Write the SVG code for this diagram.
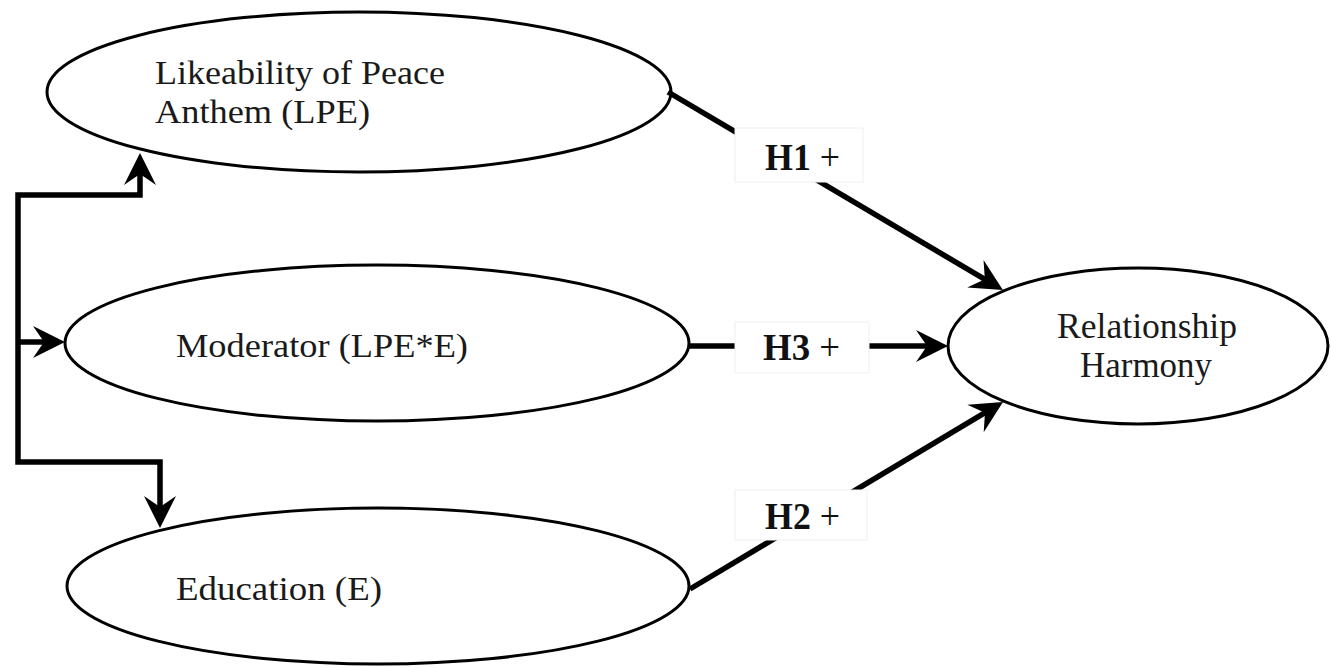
<svg xmlns="http://www.w3.org/2000/svg" width="1331" height="668" viewBox="0 0 1331 668">
<style>
.node{fill:#fff;stroke:#000;stroke-width:3}
.t{font-family:"Liberation Serif","Times New Roman",Times,serif;font-size:34px;fill:#1a1a1a}
.rt{font-family:"Liberation Serif","Times New Roman",Times,serif;font-size:35px;fill:#1a1a1a}
.conn{fill:none;stroke:#000;stroke-width:5.5;stroke-linejoin:miter}
.lbox{fill:#fff;stroke:#f0f0f0;stroke-width:1}
.lt{font-family:"Liberation Serif","Times New Roman",Times,serif;font-size:37px;fill:#111}
</style>
<defs>
<marker id="ah" viewBox="-17 -18 36 36" markerWidth="36" markerHeight="36" refX="0" refY="0" orient="auto-start-reverse" markerUnits="userSpaceOnUse">
<path d="M17,0 L-15,-16 L-4,0 L-15,16 Z" fill="#000"/>
</marker>
</defs>
<rect width="1331" height="668" fill="#fff"/>
<g id="node-lpe">
<ellipse class="node" cx="359" cy="92" rx="312" ry="80"/>
<text class="t" x="155" y="84" textLength="290" lengthAdjust="spacingAndGlyphs">Likeability of Peace</text>
<text class="t" x="155" y="123" textLength="215" lengthAdjust="spacingAndGlyphs">Anthem (LPE)</text>
</g>
<g id="node-moderator">
<ellipse class="node" cx="377" cy="343" rx="312" ry="78"/>
<text class="t" x="176" y="357" textLength="292" lengthAdjust="spacingAndGlyphs">Moderator (LPE*E)</text>
</g>
<g id="node-education">
<ellipse class="node" cx="378" cy="586" rx="311" ry="78"/>
<text class="t" x="176" y="600" textLength="206" lengthAdjust="spacingAndGlyphs">Education (E)</text>
</g>
<g id="node-rh">
<ellipse class="node" cx="1138" cy="346" rx="190" ry="78"/>
<text class="rt" x="1057" y="338" textLength="180" lengthAdjust="spacingAndGlyphs">Relationship</text>
<text class="rt" x="1080" y="377" textLength="132" lengthAdjust="spacingAndGlyphs">Harmony</text>
</g>
<g id="connectors">
<path class="conn" d="M140,170 V195 H18 V462 H160 V511" marker-start="url(#ah)" marker-end="url(#ah)"/>
<path class="conn" d="M18,342 H48" marker-end="url(#ah)"/>
<path class="conn" d="M668,92 L988.3,281.4" marker-end="url(#ah)"/>
<path class="conn" d="M689,346 H931" marker-end="url(#ah)"/>
<path class="conn" d="M690,589 L988.4,410.7" marker-end="url(#ah)"/>
<rect class="lbox" x="735" y="128" width="128" height="54"/>
<text class="lt" x="765" y="170" textLength="75" lengthAdjust="spacingAndGlyphs"><tspan font-weight="bold">H1</tspan> +</text>
<rect class="lbox" x="735" y="322" width="134" height="51"/>
<text class="lt" x="763" y="360" textLength="77" lengthAdjust="spacingAndGlyphs"><tspan font-weight="bold">H3</tspan> +</text>
<rect class="lbox" x="735" y="490" width="132" height="50"/>
<text class="lt" x="765" y="529" textLength="75" lengthAdjust="spacingAndGlyphs"><tspan font-weight="bold">H2</tspan> +</text>
</g>
</svg>
